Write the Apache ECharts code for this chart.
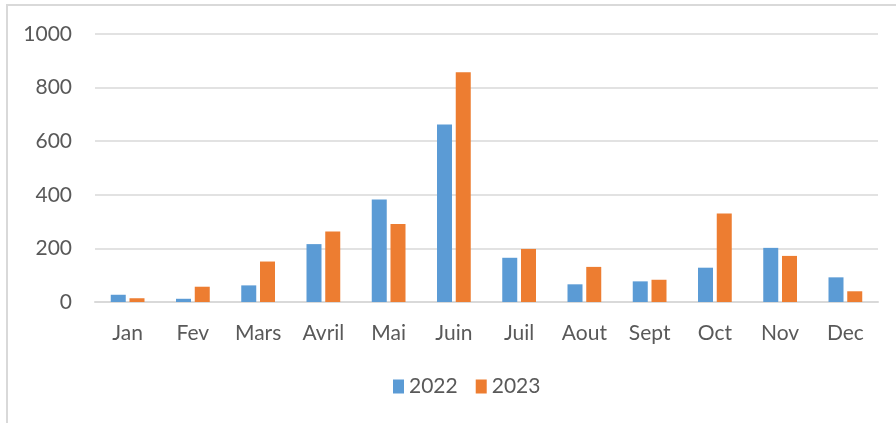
<!DOCTYPE html>
<html>
<head>
  <meta charset="utf-8">
  <title>Chart</title>
  <style>
    html, body { margin: 0; padding: 0; background: #fff; }
    #main { width: 896px; height: 423px; }
  </style>
</head>
<body>
  <div id="main"></div>
  <script src="https://cdn.jsdelivr.net/npm/echarts@6/dist/echarts.min.js"></script>
  <script>
    // mois (axe X)
    const months = ['Jan', 'Fev', 'Mars', 'Avril', 'Mai', 'Juin', 'Juil', 'Aout', 'Sept', 'Oct', 'Nov', 'Dec']
    // valeurs
    const values2022 = [27, 12, 62, 216, 382, 662, 165, 66, 77, 128, 202, 92]
    const values2023 = [14, 57, 151, 263, 291, 857, 198, 131, 83, 330, 172, 40]

    const textColor = '#595959'
    const gridColor = '#D9D9D9'
    const font = 'Lato, "Open Sans", sans-serif'

    let chart = echarts.init(document.getElementById('main'))

    let option = {
      animation: false,
      graphic: [
        {
          type: 'rect',
          shape: { x: 7, y: 5, width: 900, height: 430 },
          style: { fill: 'none', stroke: gridColor, lineWidth: 2 },
        },
      ],
      grid: {
        left: 95,
        right: 18,
        top: 34,
        bottom: 121,
      },
      legend: {
        bottom: 21,
        left: 388,
        itemWidth: 11,
        itemHeight: 14,
        itemGap: 18,
        icon: 'rect',
        textStyle: { color: textColor, fontSize: 21, fontFamily: font },
        data: ['2022', '2023'],
      },
      xAxis: {
        type: 'category',
        data: months,
        axisLine: { lineStyle: { color: gridColor, width: 2 } },
        axisTick: { show: false },
        axisLabel: { color: textColor, fontSize: 21, fontFamily: font, margin: 21 },
      },
      yAxis: {
        type: 'value',
        min: 0,
        max: 1000,
        interval: 200,
        axisLine: { show: false },
        axisTick: { show: false },
        axisLabel: {
          color: textColor,
          fontSize: 21,
          fontFamily: font,
          margin: 23,
          formatter: (v) => String(v),
        },
        splitLine: { lineStyle: { color: gridColor, width: 1.5 } },
      },
      series: [
        {
          name: '2022',
          type: 'bar',
          data: values2022,
          barWidth: 15,
          barGap: '25%',
          itemStyle: { color: '#5B9BD5' },
        },
        {
          name: '2023',
          type: 'bar',
          data: values2023,
          barWidth: 15,
          itemStyle: { color: '#ED7D31' },
        },
      ],
    }

    chart.setOption(option)
  </script>
</body>
</html>
